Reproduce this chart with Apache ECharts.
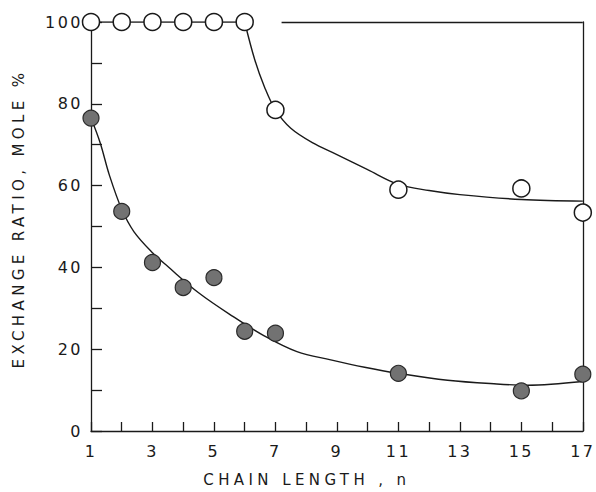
<!DOCTYPE html>
<html><head><meta charset="utf-8">
<script src="https://cdn.jsdelivr.net/npm/echarts@6/dist/echarts.min.js"></script>
<style>html,body{margin:0;padding:0;background:#fff}#c{width:596px;height:492px}</style>
</head><body><div id="c"></div>
<script>
const chainLength = [1,2,3,4,5,6,7,11,15,17];
const filledRatio = [76.5,53.7,41.2,35.1,37.5,24.4,23.9,14.1,9.8,13.9];
const openN = [1,2,3,4,5,6,7,11,15,17];
const openRatio = [100,100,100,100,100,100,78.5,59,59.3,53.4];
const upperCurveN = [6,6.33,6.65,7,7.5,8.2,9,10,11,12,13,15,17];
const upperCurveV = [100,90.7,84,78.5,74,70.5,67.6,63.9,60.3,58.8,57.8,56.6,56.2];
const lowerCurveN = [1,1.3,1.6,2,2.4,3,3.5,4.5,5.6,6.65,7.7,8.8,9.9,11,12.6,14.2,15.2,17];
const lowerCurveV = [76.5,70.4,62.5,54.2,48.7,43.6,40.2,33.8,28.1,23.2,19.4,17.4,15.6,14.1,12.4,11.5,11.2,12.1];
const xTickLabels = [1,3,5,7,9,11,13,15,17];
const yTickLabels = [0,20,40,60,80,100];
const frameTopStart = 7.2;

const zip = (a,b) => a.map((v,i) => [v,b[i]]);
const plateau = zip(openN, openRatio).filter(p => p[1] === 100);
const font = 'DejaVu Sans';
const ink = '#1a1a1a';

const chart = echarts.init(document.getElementById('c'), null, {renderer:'svg'});
chart.setOption({
  animation:false,
  backgroundColor:'#fff',
  grid:{left:91,right:8,top:22,bottom:60,containLabel:false},
  xAxis:{type:'value',min:1,max:17,interval:1,
    name:'CHAIN LENGTH , n',nameLocation:'middle',nameGap:41,
    nameTextStyle:{fontFamily:font,fontSize:15,color:ink,padding:[0,60,0,0]},
    axisLine:{show:true,onZero:false,lineStyle:{color:ink,width:1.3}},
    axisTick:{show:true,inside:true,length:9,lineStyle:{color:ink,width:1.3}},
    axisLabel:{fontFamily:font,fontSize:16,color:ink,margin:12,
      formatter:v => xTickLabels.includes(v) ? String(v) : ''},
    splitLine:{show:false}},
  yAxis:[{type:'value',min:0,max:100,interval:10,
    name:'EXCHANGE RATIO, MOLE %',nameLocation:'middle',nameGap:65,
    nameTextStyle:{fontFamily:font,fontSize:15,color:ink,padding:[0,0,0,16]},
    axisLine:{show:true,lineStyle:{color:ink,width:1.3}},
    axisTick:{show:true,inside:true,length:11,lineStyle:{color:ink,width:1.3}},
    axisLabel:{fontFamily:font,fontSize:16,color:ink,margin:8,
      formatter:v => yTickLabels.includes(v) ? String(v) : ''},
    splitLine:{show:false}},
   {type:'value',min:0,max:100,position:'right',
    axisLine:{show:true,lineStyle:{color:ink,width:1.3}},
    axisTick:{show:false},axisLabel:{show:false},splitLine:{show:false}}],
  series:[
    {type:'line',data:zip(lowerCurveN,lowerCurveV),smooth:0.35,
     showSymbol:false,lineStyle:{color:ink,width:1.4},z:2},
    {type:'line',data:zip(upperCurveN,upperCurveV),smooth:0.35,
     showSymbol:false,lineStyle:{color:ink,width:1.4},z:2,
     markLine:{symbol:'none',silent:true,label:{show:false},
       lineStyle:{color:ink,width:1.3,type:'solid'},
       data:[[{coord:[frameTopStart,100]},{coord:[17,100]}]]}},
    {type:'line',data:plateau,showSymbol:false,lineStyle:{color:ink,width:1.3},z:2},
    {type:'scatter',data:zip(chainLength,filledRatio),symbol:'circle',symbolSize:16,
     itemStyle:{color:'#727272',borderColor:'#2a2a2a',borderWidth:1.2,opacity:1},z:5},
    {type:'scatter',data:zip(openN,openRatio),symbol:'circle',symbolSize:17,
     itemStyle:{color:'#fff',borderColor:ink,borderWidth:1.5,opacity:1},z:5}
  ]
});
function spaceText(){
  document.querySelectorAll('#c svg text').forEach(t=>{
    const s=t.textContent;
    t.style.letterSpacing = /[A-Z]/.test(s) ? '4.4px' : '2.5px';
  });
}
spaceText();
chart.on('finished', spaceText);
setTimeout(spaceText, 50);
</script></body></html>
